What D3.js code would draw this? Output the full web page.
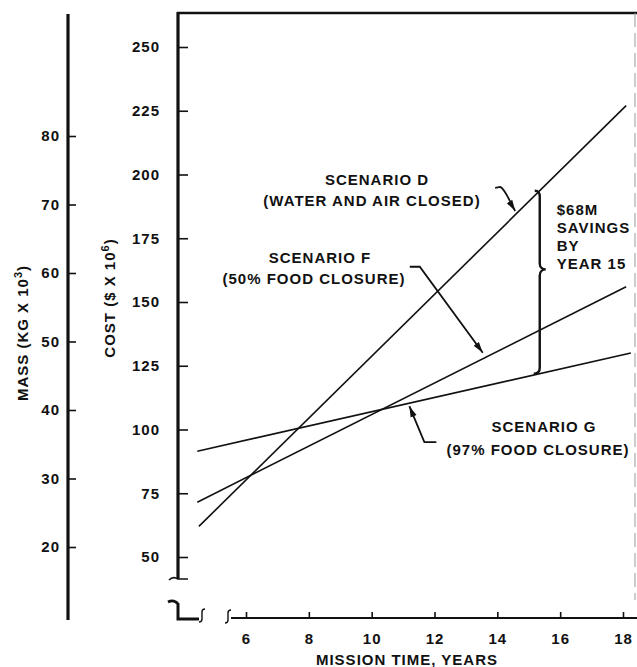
<!DOCTYPE html>
<html>
<head>
<meta charset="utf-8">
<script src="https://cdn.jsdelivr.net/npm/d3@7"></script>
<style>
  body { margin: 0; background: #fff; }
  text { font-family: "Liberation Sans", Arial, sans-serif; font-weight: bold; fill: #111; letter-spacing: 1px; }
</style>
</head>
<body>
<div id="chart"></div>
<script>
// scenario lines (years, $M)
const scenarios = ["D", "F", "G"];
const startYear = [4.5, 4.45, 4.45];
const endYear = [18.1, 18.1, 18.25];
const startCost = [62, 71.5, 91.5];
const endCost = [227, 156, 130];

const yearTicks = [6, 8, 10, 12, 14, 16, 18];
const costTicks = [50, 75, 100, 125, 150, 175, 200, 225, 250];
const massTicks = [20, 30, 40, 50, 60, 70, 80];

const labelTop = ["SCENARIO D", "SCENARIO F", "SCENARIO G"];
const labelBottom = ["(WATER AND AIR CLOSED)", "(50% FOOD CLOSURE)", "(97% FOOD CLOSURE)"];
const arrowYear = [14.6, 13.6, 11.2];
const savingsYear = 15.35;
const savingsText = ["$68M", "SAVINGS", "BY", "YEAR 15"];

const width = 637;
const height = 667;

const x = d3.scaleLinear().domain([6, 18]).range([246, 623]);
const y = d3.scaleLinear().domain([50, 250]).range([557, 47]);
const mass = d3.scaleLinear().domain([20, 80]).range([547, 136]);

function costAt(i, t) {
  return startCost[i] + (t - startYear[i]) * (endCost[i] - startCost[i]) / (endYear[i] - startYear[i]);
}

const svg = d3.select("#chart").append("svg")
  .attr("width", width)
  .attr("height", height);

svg.append("defs").append("marker")
  .attr("id", "head")
  .attr("markerUnits", "userSpaceOnUse")
  .attr("markerWidth", 12)
  .attr("markerHeight", 8)
  .attr("refX", 11)
  .attr("refY", 4)
  .attr("orient", "auto")
  .append("path")
  .attr("d", "M0,0.8 L11,4 L0,7.2 Z")
  .attr("fill", "#111");

// mass axis (left)
const gm = svg.append("g").attr("transform", "translate(68,0)");
gm.call(d3.axisLeft(mass).tickValues(massTicks).tickSize(-8).tickPadding(8));
gm.select(".domain").remove();
gm.append("line").attr("y1", 14).attr("y2", 620).attr("stroke", "#111").attr("stroke-width", 3.2);

// cost axis
const gc = svg.append("g").attr("transform", "translate(178,0)");
gc.call(d3.axisLeft(y).tickValues(costTicks).tickSize(-10).tickPadding(18));
gc.select(".domain").remove();
gc.append("line").attr("y1", 12).attr("y2", 579).attr("stroke", "#111").attr("stroke-width", 3.2);

// x axis
const gx = svg.append("g").attr("transform", "translate(0,618)");
gx.call(d3.axisBottom(x).tickValues(yearTicks).tickSize(-6).tickPadding(15));
gx.select(".domain").remove();
gx.append("line").attr("x1", 231).attr("x2", 637).attr("stroke", "#111").attr("stroke-width", 2);

[gm, gc, gx].forEach(g => {
  g.selectAll(".tick line").attr("stroke", "#111").attr("stroke-width", 1.6);
  g.selectAll(".tick text").attr("font-size", 15).attr("fill", "#111")
    .attr("font-family", "Liberation Sans, Arial, sans-serif");
});

// frame: top and faint right edge
svg.append("line").attr("x1", 177).attr("x2", 637).attr("y1", 13).attr("y2", 13)
  .attr("stroke", "#111").attr("stroke-width", 2.6);
svg.append("line").attr("x1", 635).attr("x2", 635).attr("y1", 13).attr("y2", 600)
  .attr("stroke", "#999").attr("stroke-width", 1).attr("stroke-dasharray", "14 6");

// axis break marks
function integral(cx, t, b) {
  return `M${cx - 3},${b} C${cx - 1},${b} ${cx},${b - 1} ${cx},${b - 3} L${cx},${t + 3} C${cx},${t + 1} ${cx + 1},${t} ${cx + 3},${t}`;
}
const brk = svg.append("g").attr("fill", "none").attr("stroke", "#111");
brk.append("path").attr("d", "M169,580 C172,577 175,577 178,579 L188,579").attr("stroke-width", 1.6);
brk.append("path").attr("d", "M168,602 C172,600 176,601 178,604 L178,619 L199,619").attr("stroke-width", 3);
brk.append("path").attr("d", integral(202, 609, 622)).attr("stroke-width", 1.4);
brk.append("path").attr("d", integral(228, 610, 623)).attr("stroke-width", 1.4);

// scenario lines
const line = d3.line().x(d => x(d[0])).y(d => y(d[1]));
svg.append("g").selectAll("path")
  .data(scenarios.map((s, i) => [[startYear[i], startCost[i]], [endYear[i], endCost[i]]]))
  .enter()
  .append("path")
  .attr("d", line)
  .attr("fill", "none")
  .attr("stroke", "#111")
  .attr("stroke-width", 1.6);

// labels
const labelX = [[377, 372], [320, 314], [544, 538]];
const labelY = [[185, 206], [263, 284], [432, 455]];
scenarios.forEach((s, i) => {
  svg.append("text").attr("x", labelX[i][0]).attr("y", labelY[i][0])
    .attr("text-anchor", "middle").attr("font-size", 15).text(labelTop[i]);
  svg.append("text").attr("x", labelX[i][1]).attr("y", labelY[i][1])
    .attr("text-anchor", "middle").attr("font-size", 15).text(labelBottom[i]);
});

// arrows pointing from labels to lines
const arrowShape = [
  (tx, ty) => `M${tx - 20},${ty - 23} L${tx - 15},${ty - 24} C${tx - 10},${ty - 22} ${tx - 6},${ty - 10} ${tx},${ty}`,
  (tx, ty) => `M${tx - 73},${ty - 86} L${tx - 63},${ty - 86} L${tx},${ty}`,
  (tx, ty) => `M${tx + 27},${ty + 36} L${tx + 15},${ty + 36} L${tx},${ty}`
];
const arrowOffset = [[-1, -3], [-2, -5], [0, 3]];
scenarios.forEach((s, i) => {
  const tx = x(arrowYear[i]) + arrowOffset[i][0];
  const ty = y(costAt(i, arrowYear[i])) + arrowOffset[i][1];
  svg.append("path").attr("d", arrowShape[i](tx, ty))
    .attr("fill", "none").attr("stroke", "#111").attr("stroke-width", 1.8)
    .attr("marker-end", "url(#head)");
});

// savings brace between D and G at year 15
const bx = x(savingsYear);
const braceTop = y(costAt(0, savingsYear));
const braceBot = y(costAt(2, savingsYear));
const braceMid = braceTop + 0.43 * (braceBot - braceTop);
svg.append("path")
  .attr("d", `M${bx - 5},${braceTop} C${bx - 1},${braceTop} ${bx},${braceTop + 2} ${bx},${braceTop + 6} L${bx},${braceMid - 6} C${bx},${braceMid - 2} ${bx + 3},${braceMid} ${bx + 6},${braceMid} C${bx + 3},${braceMid} ${bx},${braceMid + 2} ${bx},${braceMid + 6} L${bx},${braceBot - 6} C${bx},${braceBot - 2} ${bx - 2},${braceBot} ${bx - 6},${braceBot}`)
  .attr("fill", "none").attr("stroke", "#111").attr("stroke-width", 2.4);
svg.append("g").selectAll("text").data(savingsText).enter().append("text")
  .attr("x", bx + 17)
  .attr("y", (d, i) => braceMid - 54 + i * 18)
  .attr("font-size", 15)
  .text(d => d);

// axis titles
const massTitle = svg.append("text").attr("transform", "translate(28,333) rotate(-90)")
  .attr("text-anchor", "middle").attr("font-size", 15);
massTitle.append("tspan").text("MASS (KG X 10");
massTitle.append("tspan").attr("baseline-shift", "super").attr("font-size", 11).text("3");
massTitle.append("tspan").text(")");

const costTitle = svg.append("text").attr("transform", "translate(115,298) rotate(-90)")
  .attr("text-anchor", "middle").attr("font-size", 15);
costTitle.append("tspan").text("COST ($ X 10");
costTitle.append("tspan").attr("baseline-shift", "super").attr("font-size", 11).text("6");
costTitle.append("tspan").text(")");

svg.append("text").attr("x", 407).attr("y", 665).attr("text-anchor", "middle")
  .attr("font-size", 15).text("MISSION TIME, YEARS");
</script>
</body>
</html>
